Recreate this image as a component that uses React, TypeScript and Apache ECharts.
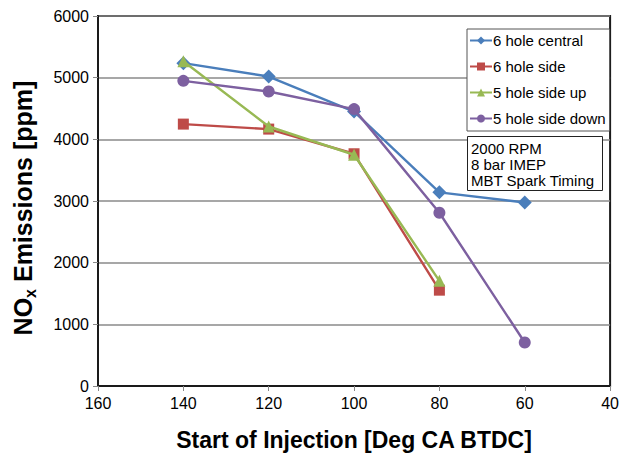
import React, { useEffect, useRef } from "react";
import * as echarts from "echarts";

const seriesNames = ["6 hole central", "6 hole side", "5 hole side up", "5 hole side down"];
const injectionAngles = [140, 120, 100, 80, 60];
const central = [5235, 5018, 4451, 3140, 2975];
const side = [4247, 4166, 3766, 1554];
const sideUp = [5265, 4208, 3750, 1705];
const sideDown = [4948, 4775, 4490, 2810, 705];
const annotationLines = ["2000 RPM", "8 bar IMEP", "MBT Spark Timing"];

const colors = ["#4a7ebb", "#be4b48", "#98b954", "#7d60a0"];
const symbols = ["diamond", "rect", "triangle", "circle"];
const symbolSizes = [14, 11, 12, 12];

const toPairs = (vals: number[]) => vals.map((v, i) => [injectionAngles[i], v]);
const FONT = "Liberation Sans, Arial, sans-serif";

export default function App() {
  const ref = useRef<HTMLDivElement>(null);
  useEffect(() => {
    if (!ref.current) return;
    const chart = echarts.init(ref.current, null, { renderer: "svg" });
    const all = [central, side, sideUp, sideDown];
    chart.setOption({
      animation: false,
      backgroundColor: "#ffffff",
      textStyle: { fontFamily: FONT },
      grid: {
        left: 98,
        right: 10,
        top: 16,
        bottom: 76,
        show: true,
        borderColor: "#1a1a1a",
        borderWidth: 2,
        backgroundColor: "transparent",
      },
      legend: {
        orient: "vertical",
        left: 467,
        top: 29,
        data: seriesNames,
        backgroundColor: "#fff",
        borderColor: "#555",
        borderWidth: 1,
        borderRadius: 0,
        padding: [4, 4, 5, 2],
        itemGap: 11,
        itemWidth: 22,
        itemHeight: 10,
        textStyle: {
          fontSize: 15,
          color: "#000",
          padding: [0, 0, 0, -4],
          fontFamily: FONT,
        },
      },
      title: {
        text: annotationLines.join("\n"),
        left: 467,
        top: 136,
        padding: [4, 3, 3, 4],
        borderColor: "#222",
        borderWidth: 1,
        backgroundColor: "#fff",
        textStyle: {
          fontSize: 15,
          fontWeight: "normal",
          color: "#000",
          lineHeight: 16,
          width: 129,
          fontFamily: FONT,
        },
      },
      xAxis: {
        type: "value",
        inverse: true,
        min: 40,
        max: 160,
        interval: 20,
        name: "Start of Injection [Deg CA BTDC]",
        nameLocation: "middle",
        nameGap: 42,
        nameTextStyle: { fontSize: 23, fontWeight: "bold", color: "#000", fontFamily: FONT },
        axisLine: { show: true, lineStyle: { color: "#1a1a1a", width: 2 } },
        axisTick: { show: true, length: 5, lineStyle: { color: "#888" } },
        axisLabel: { fontSize: 16, color: "#000", margin: 9 },
        splitLine: { show: false },
      },
      yAxis: {
        type: "value",
        min: 0,
        max: 6000,
        interval: 1000,
        name: "{a|NO}{b|x}{a| Emissions [ppm]}",
        nameLocation: "middle",
        nameGap: 60,
        nameRotate: 90,
        nameTextStyle: {
          padding: [0, 14, 0, 0],
          rich: {
            a: { fontSize: 25, fontWeight: "bold", color: "#000", lineHeight: 30, fontFamily: FONT },
            b: { fontSize: 16, fontWeight: "bold", color: "#000", lineHeight: 30, verticalAlign: "bottom", padding: [10, 0, 0, 0], fontFamily: FONT },
          },
        },
        axisLine: { show: true, lineStyle: { color: "#1a1a1a", width: 2 } },
        axisTick: { show: true, length: 5, lineStyle: { color: "#888" } },
        axisLabel: { fontSize: 16, color: "#000", margin: 9, formatter: (v: number) => String(v) },
        splitLine: { show: true, lineStyle: { color: "#8a8a8a", width: 1.5 } },
      },
      series: all.map((vals, i) => ({
        name: seriesNames[i],
        type: "line",
        data: toPairs(vals),
        symbol: symbols[i],
        symbolSize: symbolSizes[i],
        color: colors[i],
        lineStyle: { width: 2.4, color: colors[i] },
        itemStyle: { color: colors[i] },
        z: 3 + i,
      })),
    });
    return () => chart.dispose();
  }, []);
  return <div ref={ref} style={{ width: 622, height: 462, position: "absolute", left: 0, top: 0 }} />;
}
